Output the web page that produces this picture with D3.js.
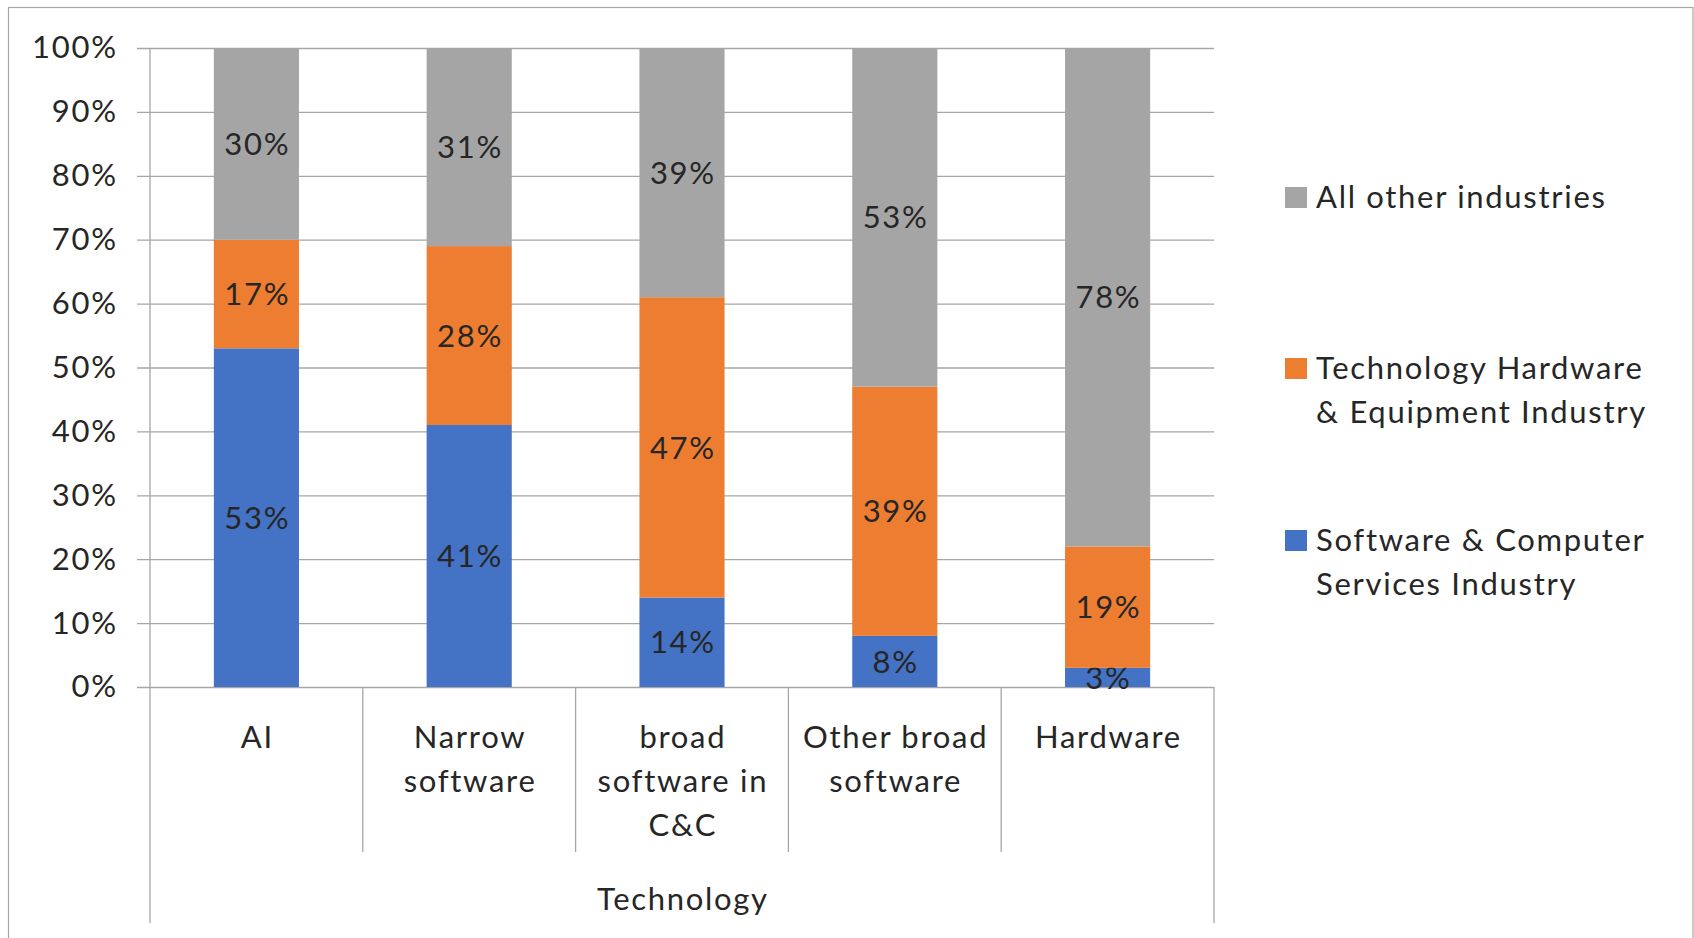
<!DOCTYPE html>
<html>
<head>
<meta charset="utf-8">
<script src="https://cdn.jsdelivr.net/npm/d3@7"></script>
<style>
  html, body { margin: 0; padding: 0; background: #fff; }
  svg { display: block; font-family: Lato, "Open Sans", sans-serif; }
  svg text { letter-spacing: 1.7px; }
</style>
</head>
<body>
<svg id="chart" width="1694" height="938"></svg>
<script>
// Technology categories (x axis), each label split into lines
const categories = ["AI", "Narrow software", "broad software in C&C", "Other broad software", "Hardware"];
const categoryLines = [["AI"], ["Narrow", "software"], ["broad", "software in", "C&C"], ["Other broad", "software"], ["Hardware"]];
const groupTitle = "Technology";

// Share of each industry, in percent (stacked bottom to top)
const softwareServices = [53, 41, 14, 8, 3];
const hardwareEquipment = [17, 28, 47, 39, 19];
const allOther = [30, 31, 39, 53, 78];

const seriesNames = ["Software & Computer Services Industry", "Technology Hardware & Equipment Industry", "All other industries"];
const seriesColors = ["#4472C4", "#ED7D31", "#A5A5A5"];
const legendLines = [["All other industries"], ["Technology Hardware", "& Equipment Industry"], ["Software & Computer", "Services Industry"]];
const yTicks = [0, 10, 20, 30, 40, 50, 60, 70, 80, 90, 100];

const svg = d3.select("#chart");
const W = 1694, H = 938;
const LS = 1.7; // letter spacing, compensated for centred/right-aligned text

// Chart frame
svg.append("rect")
  .attr("x", 8.5).attr("y", 7.5)
  .attr("width", W - 9.5).attr("height", H + 20)
  .attr("fill", "#fff").attr("stroke", "#a6a6a6").attr("stroke-width", 1.2);

const plot = { left: 150, top: 48, right: 1214, bottom: 687 };
const pw = plot.right - plot.left, ph = plot.bottom - plot.top;
const g = svg.append("g").attr("transform", `translate(${plot.left},${plot.top})`);

const x = d3.scaleBand().domain(categories).range([0, pw]).paddingInner(0.6).paddingOuter(0.3);
const y = d3.scaleLinear().domain([0, 100]).range([ph, 0]);

const gridColor = "#a6a6a6";
const textColor = "#262626";

// Y axis with gridlines
const yAxis = g.append("g")
  .call(d3.axisLeft(y).tickValues(yTicks).tickFormat(d => d + "%").tickSizeInner(-pw).tickSizeOuter(0).tickPadding(34 - LS));
yAxis.select(".domain").remove();
yAxis.selectAll(".tick line").attr("x1", -13).attr("stroke", gridColor).attr("stroke-width", 1.3);
yAxis.selectAll(".tick text")
  .attr("fill", textColor).attr("font-size", 31).attr("font-family", "Lato, sans-serif");

// Stacked data
const rows = categories.map((c, i) => ({
  cat: c,
  s0: softwareServices[i], s1: hardwareEquipment[i], s2: allOther[i]
}));
const stack = d3.stack().keys(["s0", "s1", "s2"]);
const layers = stack(rows);

const layerG = g.selectAll(".layer").data(layers).join("g")
  .attr("class", "layer")
  .attr("fill", (d, i) => seriesColors[i]);

layerG.selectAll("rect").data(d => d).join("rect")
  .attr("x", d => x(d.data.cat))
  .attr("width", x.bandwidth())
  .attr("y", d => y(d[1]))
  .attr("height", d => y(d[0]) - y(d[1]));

// Value labels centred in each segment
layerG.selectAll("text").data(d => d.map(v => ({ v, key: d.key }))).join("text")
  .attr("x", d => x(d.v.data.cat) + x.bandwidth() / 2 + LS / 2)
  .attr("y", d => (y(d.v[0]) + y(d.v[1])) / 2)
  .attr("dy", "0.36em")
  .attr("text-anchor", "middle")
  .attr("fill", textColor)
  .attr("font-size", 31)
  .text(d => (d.v[1] - d.v[0]) + "%");

// Vertical axis line and category separators
const axisLineBottom = 923 - plot.top;
g.append("line").attr("x1", 0).attr("x2", 0).attr("y1", 0).attr("y2", axisLineBottom)
  .attr("stroke", gridColor).attr("stroke-width", 1.3);
categories.forEach((c, i) => {
  const bx = x.step() * (i + 1);
  const last = i === categories.length - 1;
  g.append("line").attr("x1", bx).attr("x2", bx)
    .attr("y1", ph).attr("y2", last ? axisLineBottom : 852 - plot.top)
    .attr("stroke", gridColor).attr("stroke-width", 1.3);
});

// Category labels
categories.forEach((c, i) => {
  const cx = x(c) + x.bandwidth() / 2 + LS / 2;
  const t = g.append("text").attr("text-anchor", "middle").attr("fill", textColor).attr("font-size", 31);
  categoryLines[i].forEach((line, j) => {
    t.append("tspan").attr("x", cx).attr("y", ph + 50 + j * 44 + 11).text(line);
  });
});

// Group title under categories
g.append("text").attr("x", pw / 2 + LS / 2).attr("y", 899 - plot.top + 11)
  .attr("text-anchor", "middle").attr("fill", textColor).attr("font-size", 31)
  .text(groupTitle);

// Legend (top to bottom: reverse stack order)
const legendItems = [2, 1, 0];
const legendY = [197, 368, 540];
legendItems.forEach((si, k) => {
  const lg = svg.append("g").attr("transform", `translate(1285,${legendY[k]})`);
  lg.append("rect").attr("x", 0).attr("y", -10).attr("width", 22).attr("height", 21).attr("fill", seriesColors[si]);
  const t = lg.append("text").attr("fill", textColor).attr("font-size", 31);
  legendLines[k].forEach((line, j) => {
    t.append("tspan").attr("x", 31).attr("y", j * 44 + 11).text(line);
  });
});
</script>
</body>
</html>
